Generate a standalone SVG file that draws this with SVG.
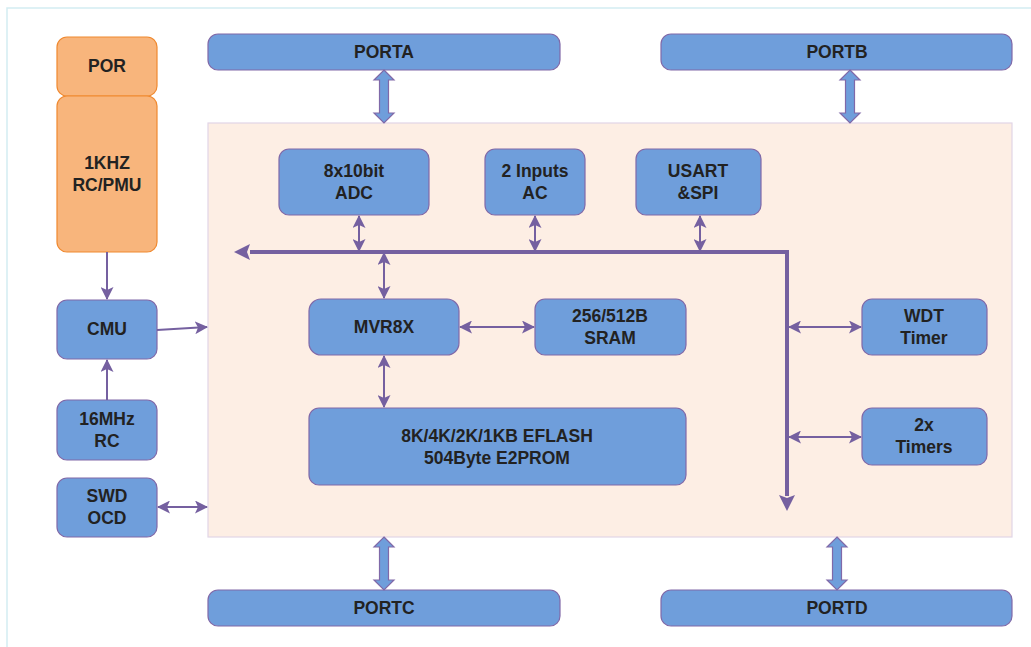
<svg xmlns="http://www.w3.org/2000/svg" width="1031" height="647" viewBox="0 0 1031 647">
<style>
.t{font-family:"Liberation Sans",Arial,sans-serif;font-weight:bold;font-size:17.5px;fill:#222;text-anchor:middle;dominant-baseline:central}
.b{fill:#6f9edb;stroke:#8069a8;stroke-width:1.2}
.o{fill:#f8b57c;stroke:#f0892f;stroke-width:1.2}
.ln{stroke:#7560a0;stroke-width:2;fill:none}
.bus{stroke:#7560a0;stroke-width:4;fill:none}
.hd{fill:#7560a0}
.ba{fill:#6f9edb;stroke:#8069a8;stroke-width:1.2}
</style>
<defs>
<marker id="ah" markerUnits="userSpaceOnUse" viewBox="0 0 13 13" refX="12" refY="6.5" markerWidth="13" markerHeight="13" orient="auto-start-reverse">
<path d="M0,0 L13,6.5 L0,13 L3,6.5 Z" fill="#7560a0"/>
</marker>
</defs>
<rect x="7" y="8" width="1030" height="645" fill="#fff" stroke="#d3edf2" stroke-width="1.5"/>
<rect id="core" x="208" y="123" width="804" height="414" fill="#fdeee4" stroke="#e2d5e6" stroke-width="1.2"/>
<g id="por"><rect class="o" x="57" y="37" width="100" height="59" rx="10"/><text class="t" x="107" y="66">POR</text></g>
<g id="rcpmu"><rect class="o" x="57" y="96" width="100" height="156" rx="10"/><text class="t" x="107" y="163">1KHZ</text><text class="t" x="107" y="185">RC/PMU</text></g>
<g id="cmu"><rect class="b" x="57" y="300" width="100" height="59" rx="10"/><text class="t" x="107" y="329">CMU</text></g>
<g id="rc16"><rect class="b" x="57" y="400" width="100" height="60" rx="10"/><text class="t" x="107" y="419">16MHz</text><text class="t" x="107" y="441">RC</text></g>
<g id="swd"><rect class="b" x="57" y="478" width="100" height="59" rx="10"/><text class="t" x="107" y="496">SWD</text><text class="t" x="107" y="518">OCD</text></g>
<g id="porta"><rect class="b" x="208" y="34" width="352" height="36" rx="10"/><text class="t" x="384" y="52">PORTA</text></g>
<g id="portb"><rect class="b" x="661" y="34" width="351" height="36" rx="10"/><text class="t" x="837" y="52">PORTB</text></g>
<g id="portc"><rect class="b" x="208" y="590" width="352" height="36" rx="10"/><text class="t" x="384" y="608">PORTC</text></g>
<g id="portd"><rect class="b" x="661" y="590" width="351" height="36" rx="10"/><text class="t" x="837" y="608">PORTD</text></g>
<g id="adc"><rect class="b" x="279" y="149" width="150" height="66" rx="10"/><text class="t" x="354" y="171">8x10bit</text><text class="t" x="354" y="193">ADC</text></g>
<g id="ac"><rect class="b" x="485" y="149" width="100" height="66" rx="10"/><text class="t" x="535" y="171">2 Inputs</text><text class="t" x="535" y="193">AC</text></g>
<g id="usart"><rect class="b" x="636" y="149" width="125" height="66" rx="10"/><text class="t" x="698" y="171">USART</text><text class="t" x="698" y="193">&amp;SPI</text></g>
<g id="mvr"><rect class="b" x="309" y="299" width="150" height="56" rx="12"/><text class="t" x="384" y="327">MVR8X</text></g>
<g id="sram"><rect class="b" x="535" y="299" width="151" height="56" rx="10"/><text class="t" x="610" y="316">256/512B</text><text class="t" x="610" y="338">SRAM</text></g>
<g id="eflash"><rect class="b" x="309" y="408" width="377" height="77" rx="10"/><text class="t" x="497" y="436">8K/4K/2K/1KB EFLASH</text><text class="t" x="497" y="458">504Byte E2PROM</text></g>
<g id="wdt"><rect class="b" x="862" y="299" width="125" height="56" rx="10"/><text class="t" x="924" y="316">WDT</text><text class="t" x="924" y="338">Timer</text></g>
<g id="timers"><rect class="b" x="862" y="408" width="125" height="57" rx="10"/><text class="t" x="924" y="425">2x</text><text class="t" x="924" y="447">Timers</text></g>
<g id="connectors">
<path class="bus" d="M250,252 L787,252 L787,496"/>
<path class="hd" d="M234,252 L250,244 L247,252 L250,260 Z"/>
<path class="hd" d="M787,511 L779,495 L787,498 L795,495 Z"/>
<path class="ln" d="M359,216 L359,251" marker-start="url(#ah)" marker-end="url(#ah)"/>
<path class="ln" d="M535,216 L535,251" marker-start="url(#ah)" marker-end="url(#ah)"/>
<path class="ln" d="M700,216 L700,251" marker-start="url(#ah)" marker-end="url(#ah)"/>
<path class="ln" d="M384,253 L384,298" marker-start="url(#ah)" marker-end="url(#ah)"/>
<path class="ln" d="M384,356 L384,407" marker-start="url(#ah)" marker-end="url(#ah)"/>
<path class="ln" d="M460,327 L534,327" marker-start="url(#ah)" marker-end="url(#ah)"/>
<path class="ln" d="M789,327 L861,327" marker-start="url(#ah)" marker-end="url(#ah)"/>
<path class="ln" d="M789,437 L861,437" marker-start="url(#ah)" marker-end="url(#ah)"/>
<path class="ln" d="M107,252 L107,299" marker-end="url(#ah)"/>
<path class="ln" d="M107,400 L107,360" marker-end="url(#ah)"/>
<path class="ln" d="M157,330 L207,327" marker-end="url(#ah)"/>
<path class="ln" d="M158,507 L207,507" marker-start="url(#ah)" marker-end="url(#ah)"/>
<path class="ba" d="M384,70 L394,80 L388.5,80 L388.5,113 L394,113 L384,123 L374,113 L379.5,113 L379.5,80 L374,80 Z"/>
<path class="ba" d="M850,70 L860,80 L854.5,80 L854.5,113 L860,113 L850,123 L840,113 L845.5,113 L845.5,80 L840,80 Z"/>
<path class="ba" d="M384,537 L394,547 L388.5,547 L388.5,580 L394,580 L384,590 L374,580 L379.5,580 L379.5,547 L374,547 Z"/>
<path class="ba" d="M837,537 L847,547 L841.5,547 L841.5,580 L847,580 L837,590 L827,580 L832.5,580 L832.5,547 L827,547 Z"/>
</g>
</svg>
